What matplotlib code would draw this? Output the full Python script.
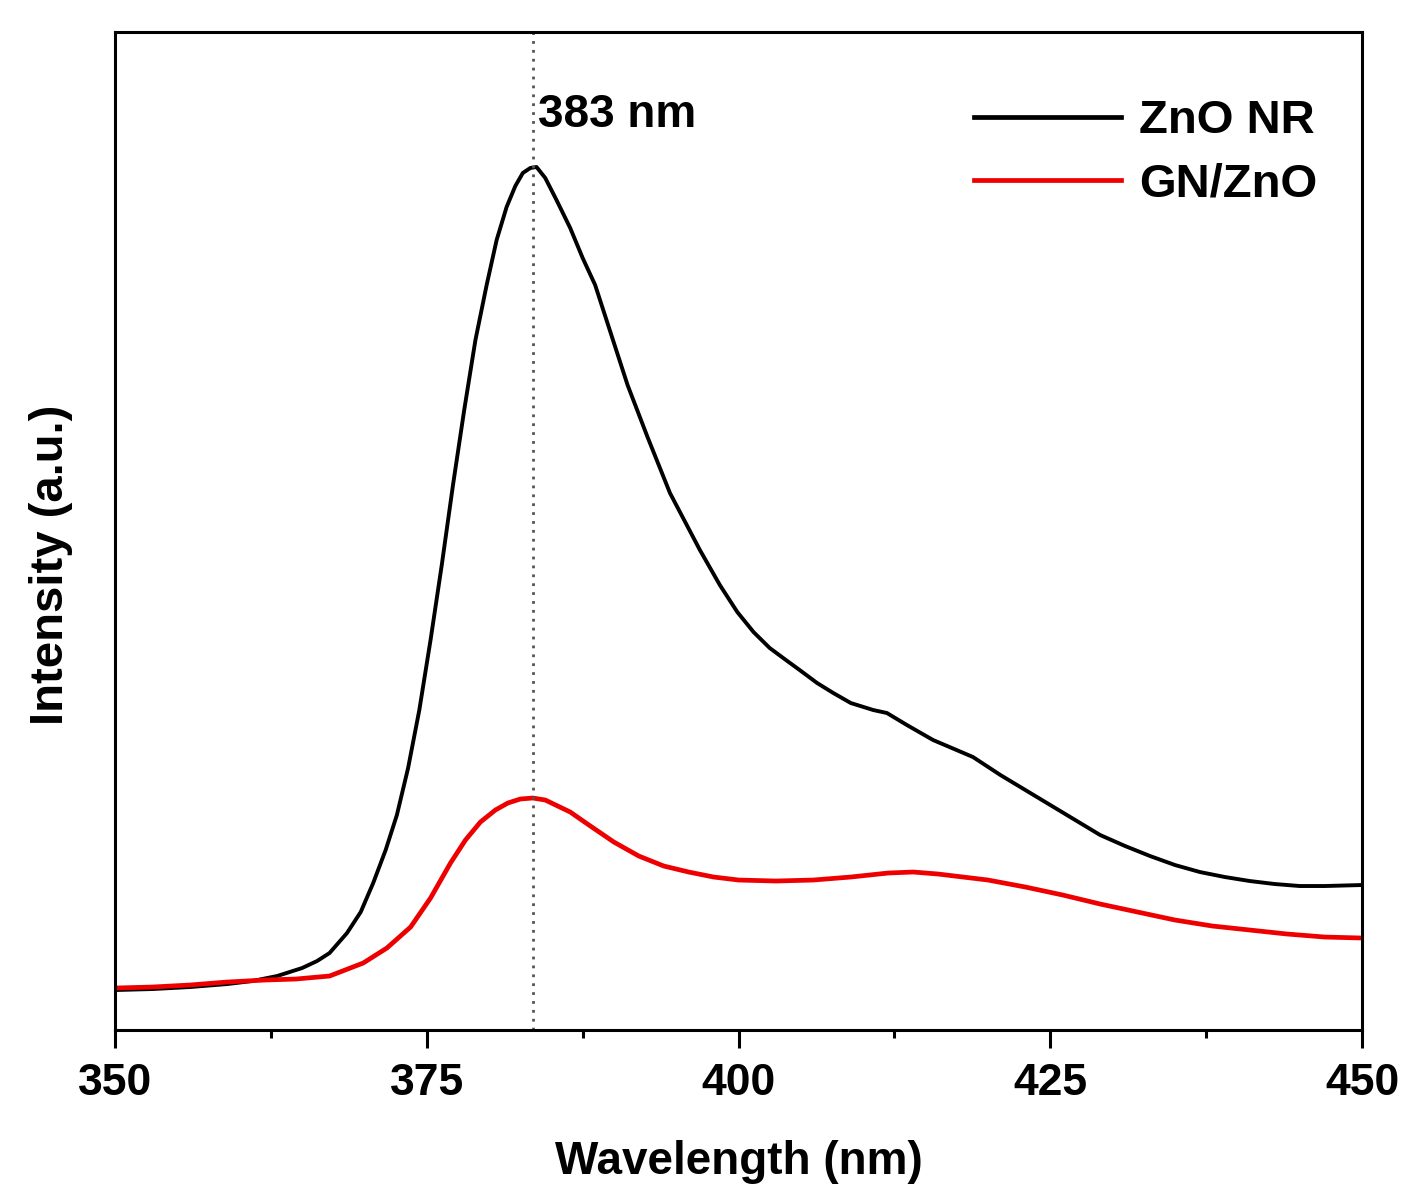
import numpy as np
import matplotlib
matplotlib.use("Agg")
from matplotlib import pyplot as plt

# PL spectra (arbitrary units)
zno_wl = [350, 353, 356, 359, 361, 363, 365, 366.2, 367.2, 368.6, 369.7, 370.7,
          371.7, 372.6, 373.5, 374.4, 375.3, 376.2, 377.1, 378.0, 378.9, 379.8,
          380.6, 381.4, 382.1, 382.7, 383.3, 383.8, 384.5, 385.4, 386.5, 387.5,
          388.5, 389.8, 391.1, 392.7, 394.5, 396.9, 398.5, 399.9, 401.2, 402.5,
          403.8, 404.9, 406.3, 407.6, 409, 410.8, 411.9, 413.5, 415.6, 418.8,
          421, 423, 425, 427, 429, 431, 433, 435, 437, 439, 441, 443, 445, 447,
          450]
zno_int = [40, 41, 43, 46, 49, 54, 62, 69, 77, 97, 118, 147,
           180, 215, 262, 320, 390, 465, 545, 620, 690, 745,
           790, 823, 844, 857, 862, 863, 852, 830, 802, 772,
           745, 695, 645, 593, 537, 480, 445, 418, 398, 382,
           370, 360, 347, 337, 327, 320, 317, 305, 290, 273,
           255, 240, 225, 210, 195, 184, 174, 165, 158, 153, 149, 146, 144, 144,
           145]

gn_wl = [350, 353, 356, 359, 362, 364.5, 367.2, 369.9, 371.8, 373.7, 375.3,
         376.9, 378.1, 379.3, 380.5, 381.5, 382.5, 383.5, 384.5, 385.5, 386.5,
         388, 390, 392, 394, 396, 398, 400, 403, 406, 409, 412, 414, 416, 418,
         420, 423, 426, 429, 432, 435, 438, 441, 444, 447, 450]
gn_int = [42, 43, 45, 48, 50, 51, 54, 67, 82, 103, 132,
          167, 190, 208, 220, 227, 231, 232, 230, 224, 218,
          205, 188, 174, 164, 158, 153, 150, 149, 150, 153, 157, 158, 156, 153,
          150, 143, 135, 126, 118, 110, 104, 100, 96, 93, 92]

peak_wl = 383.5
labels = ["ZnO NR", "GN/ZnO"]

plt.rcParams['font.family'] = ['Liberation Sans', 'DejaVu Sans']
plt.rcParams['font.weight'] = 'bold'

fig = plt.figure(figsize=(14.05, 11.89), dpi=100)
ax = fig.add_axes([0.0819, 0.1337, 0.8875, 0.8394])

ax.plot(zno_wl, zno_int, color="black", lw=2.8, label=labels[0])
ax.plot(gn_wl, gn_int, color="#ee0000", lw=3.4, label=labels[1])
ax.axvline(peak_wl, color="#555555", ls=(0, (1, 2.2)), lw=2.0)
ax.text(peak_wl + 0.45, 915, "383 nm", fontsize=33, fontweight="bold",
        va="center", ha="left")

ax.set_xlim(350, 450)
ax.set_ylim(0, 998)
ax.set_xticks([350, 375, 400, 425, 450])
ax.set_xticks(np.arange(350, 451, 12.5), minor=True)
ax.set_yticks([])
ax.tick_params(axis="x", which="major", length=13, width=2.2, pad=11,
               labelsize=32)
ax.tick_params(axis="x", which="minor", length=6, width=2.2)
for s in ax.spines.values():
    s.set_linewidth(2.2)

ax.set_xlabel("Wavelength (nm)", fontsize=33, fontweight="bold", labelpad=26)
ax.set_ylabel("Intensity (a.u.)", fontsize=34, fontweight="bold")
ax.yaxis.set_label_coords(-0.034, 0.466)

leg = ax.legend(loc="upper right", bbox_to_anchor=(0.998, 0.975), frameon=False,
                fontsize=34, handlelength=3.1, handletextpad=0.38,
                labelspacing=0.4)
for h in leg.get_lines():
    h.set_linewidth(3.4)

fig.savefig("out.png", dpi=100)
